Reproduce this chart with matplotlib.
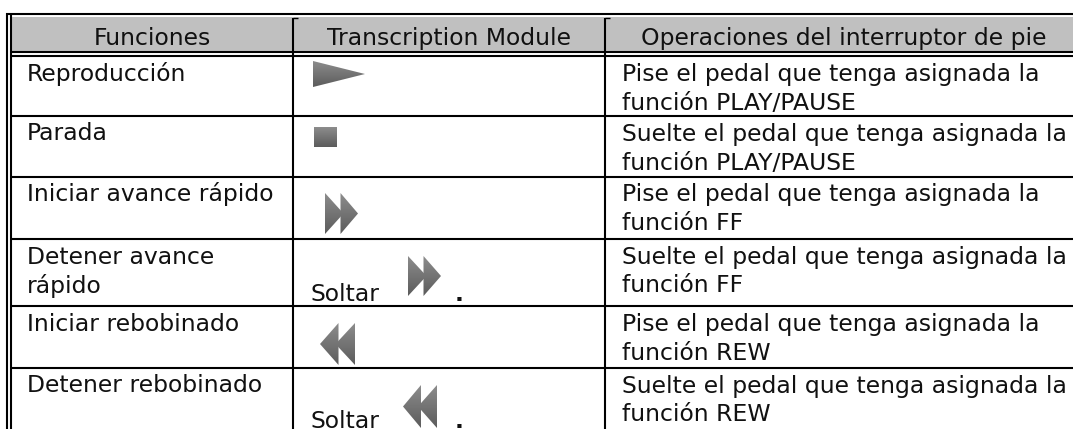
import numpy as np
import matplotlib
matplotlib.use("Agg")
import matplotlib.pyplot as plt
from matplotlib.patches import Polygon, Rectangle

W, H = 1073, 429
headers = ["Funciones", "Transcription Module", "Operaciones del interruptor de pie"]
functions = [["Reproducción"], ["Parada"], ["Iniciar avance rápido"],
             ["Detener avance", "rápido"], ["Iniciar rebobinado"], ["Detener rebobinado"]]
actions = [["Pise el pedal que tenga asignada la", "función PLAY/PAUSE"],
           ["Suelte el pedal que tenga asignada la", "función PLAY/PAUSE"],
           ["Pise el pedal que tenga asignada la", "función FF"],
           ["Suelte el pedal que tenga asignada la", "función FF"],
           ["Pise el pedal que tenga asignada la", "función REW"],
           ["Suelte el pedal que tenga asignada la", "función REW"]]
module_text = ["", "", "", "Soltar", "", "Soltar"]
icons = ["play", "stop", "ff", "ff", "rew", "rew"]

# layout (pixels)
row_lines = [116, 177, 239, 306, 368]
col_lines = [293, 605]
baselines = [[81, 110], [140.5, 170], [201, 229.5], [264, 292.5], [331, 360], [392.5, 421]]
icon_boxes = [(313, 365, 61, 87), (314, 337, 127, 147), (325, 358, 193, 234),
              (408, 441, 256, 296), (320, 355, 323, 365), (403, 437, 385, 428)]
soltar_y = {3: 301, 5: 428}
dot_x = 455

fig = plt.figure(figsize=(W / 100, H / 100), dpi=100)
ax = fig.add_axes([0, 0, 1, 1])
ax.set_xlim(0, W); ax.set_ylim(H, 0); ax.axis("off")
FS = 16.9
FONT = "DejaVu Sans"
TXT = "#111111"

ax.add_patch(Rectangle((11, 17), W - 11, 34, fc="#c0c0c0", ec="none", zorder=0))


def hl(y, x0=10, x1=W, lw=1.5):
    ax.plot([x0, x1], [y, y], color="k", lw=lw, solid_capstyle="butt", zorder=2)


def vl(x, y0, y1=H, lw=1.5):
    ax.plot([x, x], [y0, y1], color="k", lw=lw, solid_capstyle="butt", zorder=2)


hl(14, 6); hl(51.5); hl(55.5)
for y in row_lines:
    hl(y)
vl(7, 13); vl(11, 14)
for x in col_lines:
    vl(x, 18)
    hl(18, x, x + 5, lw=1.0)


def icon_polys(kind, x0, x1, y0, y1):
    xm = (x0 + x1) / 2
    ym = (y0 + y1) / 2
    if kind == "play":
        return [[(x0, y0), (x1, ym), (x0, y1)]]
    if kind == "stop":
        return [[(x0, y0), (x1, y0), (x1, y1), (x0, y1)]]
    if kind == "ff":
        return [[(x0, y0), (xm + 2, ym), (x0, y1)], [(xm - 1, y0), (x1, ym), (xm - 1, y1)]]
    return [[(xm + 1, y0), (x0, ym), (xm + 1, y1)], [(x1, y0), (xm - 2, ym), (x1, y1)]]


grad = np.linspace(0.55, 0.36, 64)[:, None]
for kind, (x0, x1, y0, y1) in zip(icons, icon_boxes):
    for pts in icon_polys(kind, x0, x1, y0, y1):
        im = ax.imshow(grad, cmap="gray", vmin=0, vmax=1, extent=(x0, x1, y1, y0),
                       aspect="auto", zorder=1, interpolation="bilinear")
        patch = Polygon(pts, closed=True, fc="none", ec="none", transform=ax.transData)
        ax.add_patch(patch)
        im.set_clip_path(patch)
ax.set_xlim(0, W); ax.set_ylim(H, 0)

for label, cx in zip(headers, [152, 449, 844]):
    ax.text(cx, 45, label, ha="center", va="baseline", fontsize=FS, family=FONT, color=TXT, zorder=3)

for i, lines in enumerate(functions):
    for j, line in enumerate(lines):
        ax.text(27, baselines[i][j], line, va="baseline", fontsize=FS, family=FONT, color=TXT, zorder=3)
for i, lines in enumerate(actions):
    for j, line in enumerate(lines):
        ax.text(622, baselines[i][j], line, va="baseline", fontsize=FS, family=FONT, color=TXT, zorder=3)
for i, t in enumerate(module_text):
    if t:
        ax.text(310, soltar_y[i], t, va="baseline", fontsize=FS, family=FONT, color=TXT, zorder=3)
        ax.text(dot_x, soltar_y[i], ".", va="baseline", fontsize=FS, family=FONT, color=TXT,
                fontweight="bold", zorder=3)

fig.savefig("out.png", dpi=100)
